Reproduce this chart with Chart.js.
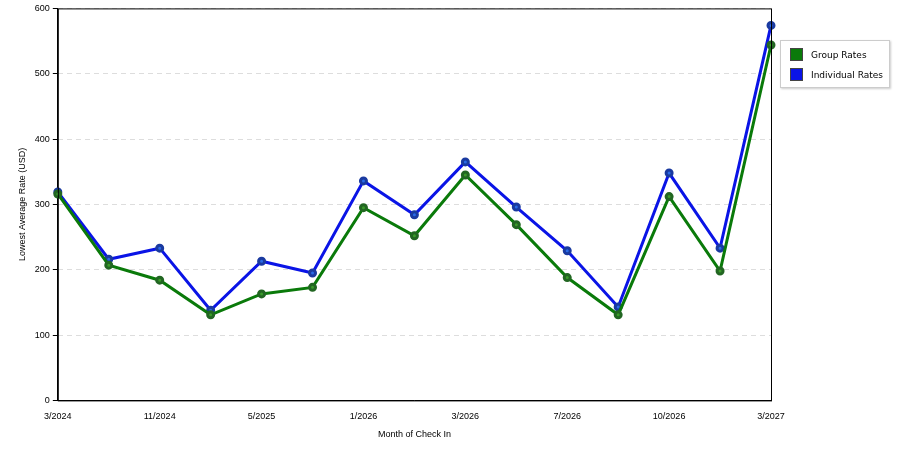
<!DOCTYPE html>
<html><head><script src="https://cdn.jsdelivr.net/npm/chart.js@4"></script>
<style>body{margin:0;background:#fff;font-family:"DejaVu Sans",sans-serif}
#wrap{position:relative;width:900px;height:450px}
#leg{position:absolute;left:780px;top:40px;width:108px;height:46px;border:1px solid #ccc;font-size:9px;box-shadow:1px 1px 2px #ccc}
.it{position:absolute;left:9px;display:flex;align-items:center}
.sw{width:11px;height:11px;margin-right:8px;border:1px solid #444}
</style></head><body>
<div id="wrap"><canvas id="c" width="900" height="450"></canvas>
<div id="leg"><div class="it" style="top:7px"><span class="sw" style="background:#0a7a0a"></span>Group Rates</div>
<div class="it" style="top:27px"><span class="sw" style="background:#0a14e6"></span>Individual Rates</div></div></div>
<script>
const categories=["3/2024","7/2024","11/2024","2/2025","5/2025","9/2025","1/2026","2/2026","3/2026","5/2026","7/2026","9/2026","10/2026","12/2026","3/2027"];
const shownLabels=[0,2,4,6,8,10,12,14];
const groupRates=[316,207,184,131,163,173,295,252,345,269,188,131,312,198,544];
const individualRates=[319,216,233,138,213,195,336,284,365,296,229,143,348,233,574];
const yTicks=[0,100,200,300,400,500,600];
const boxPlugin={id:'box',afterDraw(ch){const a=ch.chartArea,x=ch.ctx;x.save();x.strokeStyle='#000';x.lineWidth=1;x.strokeRect(a.left+0.5,a.top+0.5,a.right-a.left,a.bottom-a.top);x.restore();}};
new Chart(document.getElementById('c'),{type:'line',
data:{labels:categories,datasets:[
{label:'Group Rates',data:groupRates,borderColor:'#0a7a0a',backgroundColor:'#3a9a2a',pointBorderColor:'#226622',borderWidth:3,pointRadius:3,tension:0},
{label:'Individual Rates',data:individualRates,borderColor:'#0a14e6',backgroundColor:'#2a6ae6',pointBorderColor:'#1a3aa0',borderWidth:3,pointRadius:3,tension:0}]},
options:{responsive:false,animation:false,layout:{padding:{left:13,right:129,top:2,bottom:6}},
plugins:{legend:{display:false},tooltip:{enabled:false}},
scales:{x:{offset:false,grid:{display:false},border:{color:'#000'},
ticks:{autoSkip:false,maxRotation:0,color:'#000',font:{size:9},callback:(v,i)=>shownLabels.includes(i)?categories[i]:''},
title:{display:true,text:'Month of Check In',color:'#000',font:{size:9}}},
y:{min:0,max:600,afterBuildTicks:s=>{s.ticks=yTicks.map(v=>({value:v}))},
grid:{color:'#ddd',tickColor:'#000',tickLength:5,drawTicks:true},border:{dash:[5,4],color:'#000'},
ticks:{color:'#000',font:{size:9}},
title:{display:true,text:'Lowest Average Rate (USD)',color:'#000',font:{size:9}}}}},
plugins:[boxPlugin]});
</script></body></html>
